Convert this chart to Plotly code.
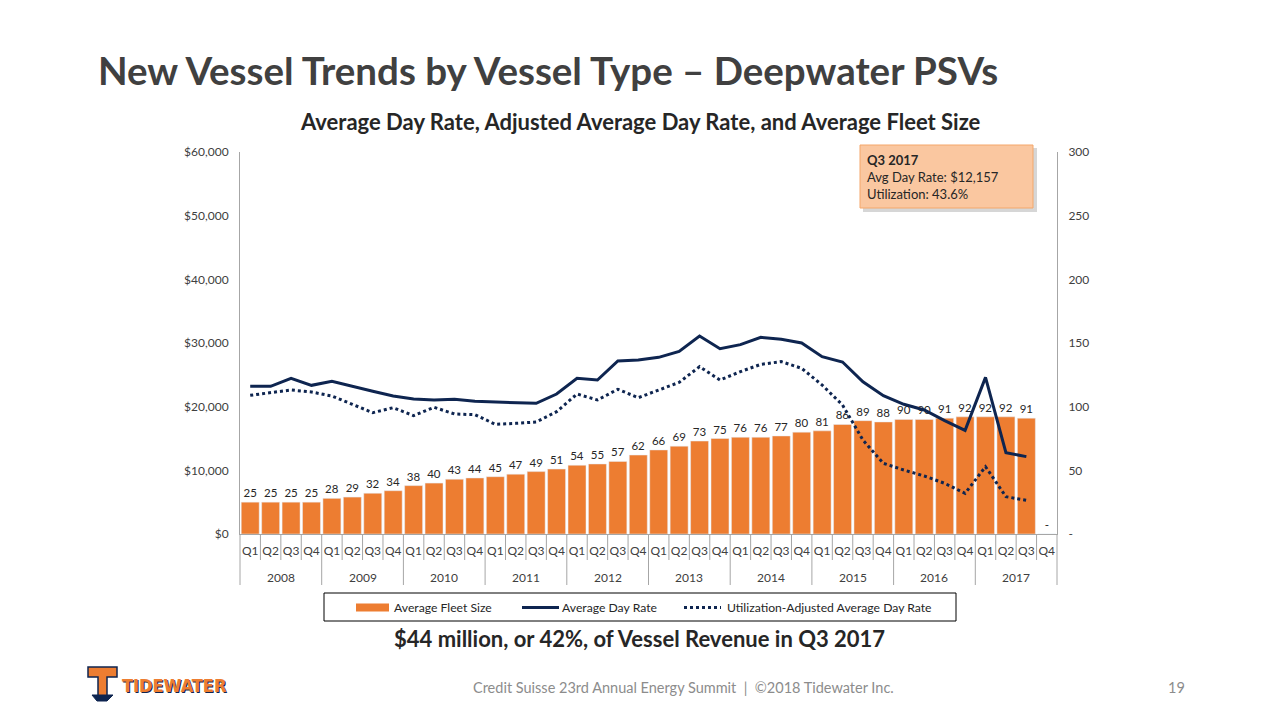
import plotly.graph_objects as go

years = [str(y) for y in range(2008, 2018)]
quarters = ["Q1", "Q2", "Q3", "Q4"]
fleet_size = [25, 25, 25, 25, 28, 29, 32, 34, 38, 40, 43, 44, 45, 47, 49, 51,
              54, 55, 57, 62, 66, 69, 73, 75, 76, 76, 77, 80, 81, 86, 89, 88,
              90, 90, 91, 92, 92, 92, 91, 0]
fleet_labels = [str(v) for v in fleet_size[:-1]] + ["-"]
avg_day_rate = [23200, 23200, 24450, 23350, 23980, 23140, 22410, 21670, 21200, 21040,
                21150, 20840, 20730, 20680, 20520, 21990, 24450, 24190, 27170, 27330,
                27750, 28690, 31100, 29110, 29740, 30890, 30580, 30000, 27850, 27010,
                23920, 21720, 20370, 19480, 17800, 16280, 24600, 12770, 12157, None]
util_adj_rate = [21780, 22200, 22620, 22300, 21670, 20370, 19060, 19840, 18590, 19900,
                 18850, 18740, 17230, 17380, 17590, 19210, 21990, 21050, 22730, 21410,
                 22620, 23820, 26280, 24190, 25500, 26650, 27070, 26020, 23400, 20260,
                 14760, 11100, 10050, 9110, 7960, 6390, 10570, 5860, 5300, None]

periods = [f"{q} {y}" for y in years for q in quarters]
period_quarters = [q for _ in years for q in quarters]

ORANGE = "#ED7D31"
NAVY = "#0E2550"
FONT = "Lato"
TXT = "#262626"
AXIS = "#A6A6A6"

fig = go.Figure()
fig.add_trace(go.Bar(
    x=periods, y=fleet_size, name="Average Fleet Size", marker_color=ORANGE,
    text=fleet_labels, textposition="outside", cliponaxis=False,
    textfont=dict(size=11.5, color=TXT, family=FONT), yaxis="y"))
fig.add_trace(go.Scatter(
    x=periods, y=avg_day_rate, name="Average Day Rate", mode="lines",
    line=dict(color=NAVY, width=3), yaxis="y2"))
fig.add_trace(go.Scatter(
    x=periods, y=util_adj_rate, name="Utilization-Adjusted Average Day Rate", mode="lines",
    line=dict(color=NAVY, width=3, dash="dot"), yaxis="y2"))

L, R, T, B = 240, 1057, 152, 534
W, H = R - L, B - T
N = len(periods)


def px(x):
    return (x - L) / W


def py(y):
    return (B - y) / H


annotations = [
    dict(text="<b>New Vessel Trends by Vessel Type – Deepwater PSVs</b>", x=px(96), y=py(70),
         xanchor="left", yanchor="middle", font=dict(size=38.5, color="#404040", family=FONT)),
    dict(text="<b>Average Day Rate, Adjusted Average Day Rate, and Average Fleet Size</b>",
         x=px(640), y=py(121), xanchor="center", yanchor="middle",
         font=dict(size=22, color=TXT, family=FONT)),
    dict(text="<b>$44 million, or 42%, of Vessel Revenue in Q3 2017</b>",
         x=px(639), y=py(638), xanchor="center", yanchor="middle",
         font=dict(size=22, color=TXT, family=FONT)),
    dict(text="Credit Suisse 23rd Annual Energy Summit  |  ©2018 Tidewater Inc.",
         x=px(683), y=py(687), xanchor="center", yanchor="middle",
         font=dict(size=14.5, color="#8C8C8C", family=FONT)),
    dict(text="19", x=px(1176), y=py(687), xanchor="center", yanchor="middle",
         font=dict(size=14.5, color="#8C8C8C", family=FONT)),
    dict(text="<b>Q3 2017</b><br>Avg Day Rate: $12,157<br>Utilization: 43.6%",
         x=px(865), y=py(150), xanchor="left", yanchor="top", align="left",
         font=dict(size=13, color=TXT, family=FONT)),
    dict(text="<b>TIDEWATER</b>", x=px(121), y=py(686), xanchor="left", yanchor="middle",
         font=dict(size=18, color=NAVY, family="DejaVu Sans Condensed")),
    dict(text="<b>TIDEWATER</b>", x=px(120), y=py(685), xanchor="left", yanchor="middle",
         font=dict(size=18, color=ORANGE, family="DejaVu Sans Condensed")),
    # custom legend labels
    dict(text="Average Fleet Size", x=px(392), y=py(607.5), xanchor="left", yanchor="middle",
         font=dict(size=12.2, color=TXT, family=FONT)),
    dict(text="Average Day Rate", x=px(560), y=py(607.5), xanchor="left", yanchor="middle",
         font=dict(size=12.2, color=TXT, family=FONT)),
    dict(text="Utilization-Adjusted Average Day Rate", x=px(725), y=py(607.5), xanchor="left",
         yanchor="middle", font=dict(size=12.2, color=TXT, family=FONT)),
]
# year group labels (second axis level)
for k, yr in enumerate(years):
    annotations.append(dict(text=yr, x=(4 * k + 2) / N, y=py(577), xanchor="center",
                            yanchor="middle", font=dict(size=12, color="#404040", family=FONT)))
for a in annotations:
    a.update(xref="paper", yref="paper", showarrow=False)

shapes = [
    # callout shadow + box
    dict(type="rect", x0=px(863), x1=px(1037), y0=py(148), y1=py(212),
         fillcolor="rgba(0,0,0,0.16)", line=dict(width=0)),
    dict(type="rect", x0=px(860), x1=px(1033), y0=py(145), y1=py(208),
         fillcolor="#FAC7A0", line=dict(color="#F4A76A", width=1)),
    # logo T
    dict(type="path",
         path=("M {a},{b} L {c},{b} L {c},{d} L {e},{d} L {e},{f} L {g},{f} L {g},{d} L {h},{d} Z").format(
             a=px(88), b=py(667), c=px(117), d=py(677), e=px(107), f=py(697), g=px(98), h=px(88)),
         fillcolor=ORANGE, line=dict(color=NAVY, width=1.5)),
    dict(type="path",
         path="M {a},{b} L {c},{b} L {d},{e} L {f},{e} Z".format(
             a=px(92), b=py(695), c=px(113), d=px(107), e=py(701), f=px(97)),
         fillcolor=NAVY, line=dict(color=NAVY, width=1)),
    # custom legend box and symbols
    dict(type="rect", x0=px(324), x1=px(956), y0=py(593), y1=py(621),
         fillcolor="white", line=dict(color="#000000", width=1)),
    dict(type="rect", x0=px(356), x1=px(389), y0=py(603.5), y1=py(611.5),
         fillcolor=ORANGE, line=dict(width=0)),
    dict(type="line", x0=px(522), x1=px(559), y0=py(607.5), y1=py(607.5),
         line=dict(color=NAVY, width=3)),
    dict(type="line", x0=px(684), x1=px(721), y0=py(607.5), y1=py(607.5),
         line=dict(color=NAVY, width=3, dash="dot")),
]
# category boundaries: short quarter dividers, long year dividers
for i in range(N + 1):
    bottom = 585 if i % 4 == 0 else 560
    shapes.append(dict(type="line", x0=i / N, x1=i / N, y0=0, y1=py(bottom),
                       line=dict(color=AXIS, width=1)))
for s in shapes:
    s.update(xref="paper", yref="paper", layer="above")

fig.update_layout(
    width=1280, height=720,
    margin=dict(l=L, r=1280 - R, t=T, b=720 - B, pad=0),
    paper_bgcolor="white", plot_bgcolor="white",
    font=dict(family=FONT, color="#404040", size=12),
    bargap=0.12,
    showlegend=False,
    xaxis=dict(type="category", categoryorder="array", categoryarray=periods,
               range=[-0.5, N - 0.5], tickvals=periods, ticktext=period_quarters,
               showline=True, linecolor=AXIS, linewidth=1, ticks="", tickangle=0,
               ticklabelstandoff=6,
               tickfont=dict(size=12, color="#404040", family=FONT), showgrid=False),
    yaxis=dict(side="right", range=[0, 300], tickvals=[0, 50, 100, 150, 200, 250, 300],
               ticktext=["-", "50", "100", "150", "200", "250", "300"], showgrid=False,
               showline=True, linecolor=AXIS, linewidth=1, ticks="", zeroline=False,
               tickfont=dict(size=12, color="#404040", family=FONT), ticklabelstandoff=8),
    yaxis2=dict(side="left", overlaying="y", range=[0, 60000], dtick=10000, tickformat="$,.0f",
                showgrid=False, showline=True, linecolor=AXIS, linewidth=1, ticks="",
                zeroline=False, tickfont=dict(size=12, color="#404040", family=FONT),
                ticklabelstandoff=8),
    annotations=annotations,
    shapes=shapes,
)

fig.write_html("out.html", config={"displayModeBar": False},
               post_script="document.body.style.margin='0';")
